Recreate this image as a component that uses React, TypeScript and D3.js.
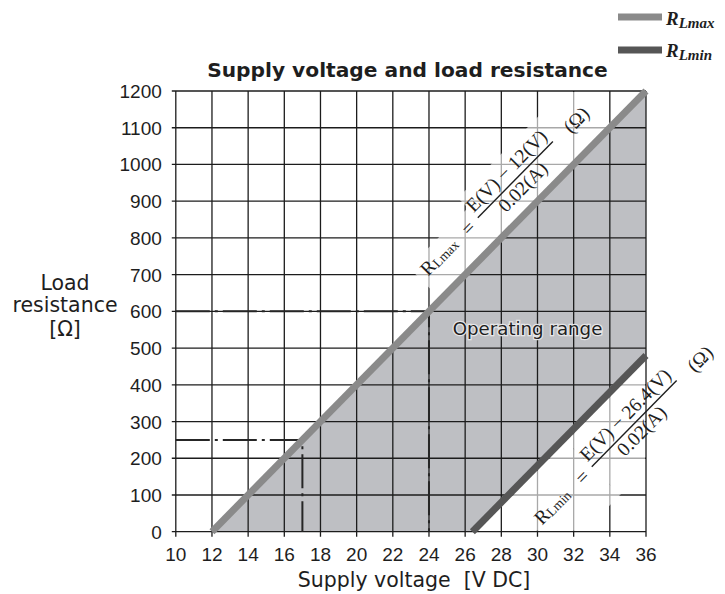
import React from 'react';
import * as d3 from 'd3';

// ---- data ----
const xTicks = [10, 12, 14, 16, 18, 20, 22, 24, 26, 28, 30, 32, 34, 36];
const yTicks = [0, 100, 200, 300, 400, 500, 600, 700, 800, 900, 1000, 1100, 1200];
const rMaxLine: [number, number][] = [[12, 0], [36, 1200]];
const rMinLine: [number, number][] = [[26.4, 0], [36, 480]];
const operatingRange: [number, number][] = [[12, 0], [36, 1200], [36, 480], [26.4, 0]];
const guide600: [number, number][] = [[10, 600], [24, 600], [24, 0]];
const guide250: [number, number][] = [[10, 250], [17, 250], [17, 0]];
const rMaxFormulaAnchor: [number, number] = [26.7, 855];
const rMinFormulaAnchor: [number, number] = [33.0, 177];
const operatingLabelPos: [number, number] = [29.45, 535];

const W = 725;
const H = 594;

const x = d3.scaleLinear().domain([10, 36]).range([175.8, 646]);
const y = d3.scaleLinear().domain([0, 1200]).range([531.7, 91]);

const line = d3.line<[number, number]>().x(d => x(d[0])).y(d => y(d[1]));

const angle = (Math.atan2(y(0) - y(1200), x(36) - x(12)) * 180) / Math.PI;

const gothic = "'DejaVu Sans', 'Noto Sans', sans-serif";
const tickFont = "'Liberation Sans Narrow', 'Liberation Sans', sans-serif";
const serif = "'Liberation Serif', 'Times New Roman', serif";

const COL_MAX = '#8a8a8a';
const COL_MIN = '#565656';
const GRID = '#1c1c1c';
const INK = '#1e1e1e';

type Band = [number, number, number, number];

function FormulaBand({ anchor, band }: { anchor: [number, number]; band: Band[] }) {
  return (
    <g transform={`translate(${x(anchor[0])},${y(anchor[1])}) rotate(${-angle})`}>
      {band.map((b, i) => (
        <rect key={i} x={b[0]} y={b[1]} width={b[2] - b[0]} height={b[3] - b[1]} fill="#fff" opacity={0.62} />
      ))}
    </g>
  );
}

function FormulaText({ anchor, sub, num, barLen }: { anchor: [number, number]; sub: string; num: string; barLen: number }) {
  return (
    <g transform={`translate(${x(anchor[0])},${y(anchor[1])}) rotate(${-angle})`} fontFamily={serif} fontSize={19.5} fill={INK}>
      <text x={-77} y={6}>
        R<tspan fontSize={13.5} dy={1}>{sub}</tspan>
      </text>
      <text x={-14} y={7} textAnchor="middle">=</text>
      <line x1={0} x2={barLen} y1={0} y2={0} stroke={INK} strokeWidth={1.4} />
      <text x={barLen / 2} y={-6} textAnchor="middle">{num}</text>
      <text x={barLen / 2} y={17} textAnchor="middle">0.02(A)</text>
      <text x={barLen + 18} y={8}>(Ω)</text>
    </g>
  );
}

export default function App() {
  const x0 = x(10), x1 = x(36), y0 = y(0), y1 = y(1200);
  return (
    <svg width={W} height={H} style={{ position: 'absolute', left: 0, top: 0, background: '#fff' }}>
      <defs>
        <clipPath id="plotInner">
          <rect x={x0 + 1} y={y1 + 1} width={x1 - x0 - 2} height={y0 - y1 - 2} />
        </clipPath>
      </defs>
      {/* shaded operating range */}
      <path d={line(operatingRange) + 'Z'} fill="#bebfc3" />
      {/* grid */}
      {xTicks.map(t => (
        <line key={'gx' + t} x1={x(t)} x2={x(t)} y1={y1} y2={y0 + 5} stroke={GRID} strokeWidth={1.3} />
      ))}
      {yTicks.map(t => (
        <line key={'gy' + t} x1={x0 - 4} x2={x1} y1={y(t)} y2={y(t)} stroke={GRID} strokeWidth={1.3} />
      ))}
      {/* halos behind formulas */}
      <g clipPath="url(#plotInner)">
        <FormulaBand anchor={rMaxFormulaAnchor} band={[[-84, -14, 0, 28], [0, -28, 160, 28]]} />
        <FormulaBand anchor={rMinFormulaAnchor} band={[[-84, -36, 0, 40], [0, -36, 175, 40]]} />
      </g>
      {/* guide lines */}
      <path d={line(guide600)} fill="none" stroke="#262626" strokeWidth={2} strokeDasharray="34 5 3 5" />
      <path d={line(guide250)} fill="none" stroke="#262626" strokeWidth={2} strokeDasharray="34 5 3 5" />
      {/* characteristic lines */}
      <path d={line(rMaxLine)} fill="none" stroke={COL_MAX} strokeWidth={7} />
      <path d={line(rMinLine)} fill="none" stroke={COL_MIN} strokeWidth={7} />
      {/* formulas */}
      <FormulaText anchor={rMaxFormulaAnchor} sub="Lmax" num="E(V) − 12(V)" barLen={107} />
      <FormulaText anchor={rMinFormulaAnchor} sub="Lmin" num="E(V) − 26.4(V)" barLen={121} />
      {/* tick labels */}
      {yTicks.map(t => (
        <text key={'ly' + t} x={x0 - 14} y={y(t) + 7} textAnchor="end" fontFamily={tickFont} fontSize={19} fill={INK}>{t}</text>
      ))}
      {xTicks.map(t => (
        <text key={'lx' + t} x={x(t)} y={y0 + 29} textAnchor="middle" fontFamily={tickFont} fontSize={19} fill={INK}>{t}</text>
      ))}
      {/* operating range label */}
      <text x={x(operatingLabelPos[0])} y={y(operatingLabelPos[1])} textAnchor="middle" fontFamily={gothic} fontSize={18.2} fill={INK} stroke="#e6e6e8" strokeWidth={2.5} paintOrder="stroke">Operating range</text>
      {/* title */}
      <text x={407.5} y={77} textAnchor="middle" fontFamily={gothic} fontWeight="bold" fontSize={20.2} fill={INK}>Supply voltage and load resistance</text>
      {/* axis titles */}
      <text x={414} y={587} textAnchor="middle" fontFamily={gothic} fontSize={20.5} fill={INK}>{'Supply voltage\u00A0\u00A0[V DC]'}</text>
      <text textAnchor="middle" fontFamily={gothic} fontSize={20.5} fill={INK}>
        <tspan x={65} y={290}>Load</tspan>
        <tspan x={65} y={312}>resistance</tspan>
        <tspan x={65} y={336}>[Ω]</tspan>
      </text>
      {/* legend */}
      <line x1={618} x2={662} y1={17} y2={17} stroke={COL_MAX} strokeWidth={7} />
      <text x={666} y={25} fontFamily={serif} fontStyle="italic" fontWeight="bold" fontSize={19} fill={INK}>
        R<tspan fontSize={15} dy={3}>Lmax</tspan>
      </text>
      <line x1={618} x2={662} y1={50} y2={50} stroke={COL_MIN} strokeWidth={7} />
      <text x={666} y={57} fontFamily={serif} fontStyle="italic" fontWeight="bold" fontSize={19} fill={INK}>
        R<tspan fontSize={15} dy={3}>Lmin</tspan>
      </text>
    </svg>
  );
}
